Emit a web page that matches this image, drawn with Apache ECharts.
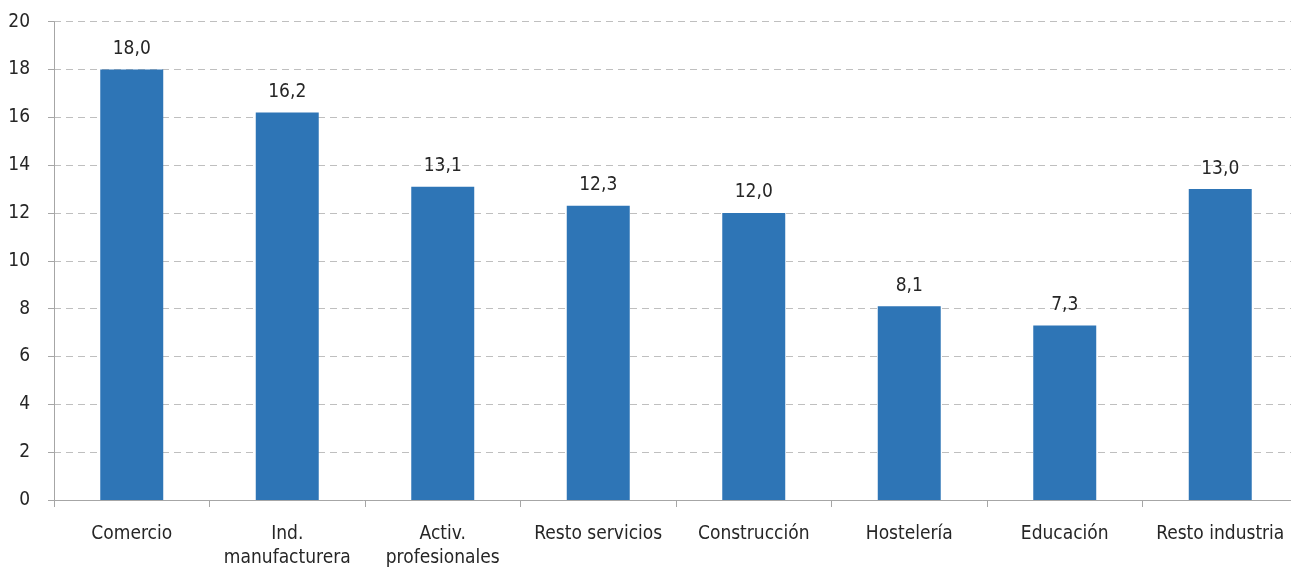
<!DOCTYPE html>
<html>
<head>
<meta charset="utf-8">
<script src="https://cdn.jsdelivr.net/npm/echarts@6/dist/echarts.min.js"></script>
<style>
html,body{margin:0;padding:0;background:#fff;}
#chart{width:1291px;height:569px;}
</style>
</head>
<body>
<div id="chart"></div>
<script>
const categories = ["Comercio", "Ind.\nmanufacturera", "Activ.\nprofesionales", "Resto servicios", "Construcción", "Hostelería", "Educación", "Resto industria"];
const values = [18.0, 16.2, 13.1, 12.3, 12.0, 8.1, 7.3, 13.0];
const yMin = 0, yMax = 20, yStep = 2;

const FONT = "'Liberation Sans Narrow', 'DejaVu Sans Condensed', 'Liberation Sans', sans-serif";
const chart = echarts.init(document.getElementById('chart'));
chart.setOption({
  animation: false,
  textStyle: { fontFamily: FONT },
  grid: { left: 54, width: 1244, top: 21.7, height: 478.3, containLabel: false, outerBoundsMode: 'none' },
  xAxis: {
    type: 'category',
    data: categories,
    axisLine: { lineStyle: { color: '#A6A6A6', width: 1 } },
    axisTick: { show: true, length: 7, lineStyle: { color: '#A6A6A6' } },
    axisLabel: { color: '#262626', fontSize: 19, fontFamily: FONT, margin: 22, lineHeight: 24, interval: 0 }
  },
  yAxis: {
    type: 'value',
    min: yMin, max: yMax, interval: yStep,
    axisLine: { show: true, lineStyle: { color: '#A6A6A6', width: 1 } },
    axisTick: { show: true, length: 6, lineStyle: { color: '#A6A6A6' } },
    axisLabel: { color: '#262626', fontSize: 19, fontFamily: FONT, margin: 24 },
    splitLine: { show: true, lineStyle: { color: '#BFBFBF', type: [7, 5], width: 1 } }
  },
  series: [{
    type: 'bar',
    data: values,
    barWidth: '40.5%',
    itemStyle: { color: '#2E75B6' },
    label: {
      show: true, position: 'top', distance: 11,
      color: '#262626', fontSize: 19, fontFamily: FONT,
      formatter: p => p.value.toFixed(1).replace('.', ',')
    }
  }]
});
</script>
</body>
</html>
